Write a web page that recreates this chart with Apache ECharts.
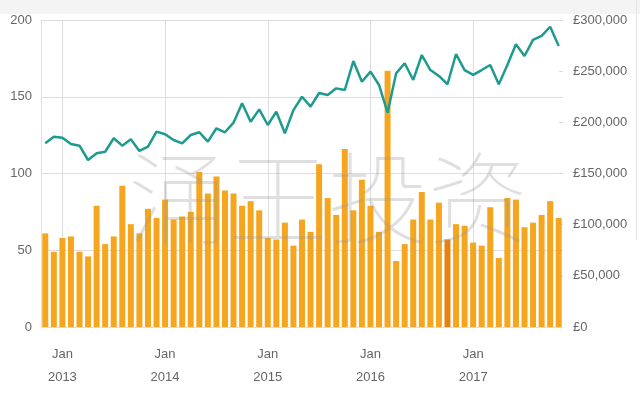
<!DOCTYPE html>
<html>
<head>
<meta charset="utf-8">
<script src="https://cdn.jsdelivr.net/npm/echarts@6/dist/echarts.min.js"></script>
<style>
  html, body { margin: 0; padding: 0; background: #fff; }
  #main { width: 640px; height: 398px; }
</style>
</head>
<body>
<div id="main"></div>
<script>
const chartDom = document.getElementById('main');
const myChart = echarts.init(chartDom);

// monthly, Nov 2012 .. Nov 2017
const monthNames = ['Jan', 'Feb', 'Mar', 'Apr', 'May', 'Jun', 'Jul', 'Aug', 'Sep', 'Oct', 'Nov', 'Dec'];
const months = [];
for (let i = 0; i < 61; i++) {
    const m = (10 + i) % 12;
    const y = 2012 + Math.floor((10 + i) / 12);
    months.push(monthNames[m] + ' ' + y);
}

// bars, left axis
const volumes = [
    61, 49, 58, 59, 49, 46, 79, 54, 59, 92,
    67, 61, 77, 71, 83, 70, 72, 75, 101, 87,
    98, 89, 87, 79, 82, 76, 58, 57, 68, 53,
    70, 62, 106, 84, 73, 116, 76, 96, 79, 62,
    167, 43, 54, 70, 88, 70, 81, 57, 67, 66,
    55, 53, 78, 45, 84, 83, 65, 68, 73, 82, 71
];

// line, right axis (£)
const prices = [
    179500, 186000, 185000, 178800, 177200, 163200, 169700, 171300, 184400, 177200,
    183400, 172000, 176200, 190900, 188300, 182700, 179500, 187600, 190300, 181100,
    194200, 190300, 199700, 218600, 200600, 212700, 197400, 210400, 189300, 212000,
    225000, 215300, 228700, 226700, 233200, 231600, 259900, 239700, 249500, 236500,
    209400, 247900, 257700, 241400, 265800, 251100, 245300, 237200, 266800, 251100,
    246300, 251100, 256000, 237200, 256000, 276300, 264800, 280500, 284400, 293400, 274600
];

const leftTicks = [0, 50, 100, 150, 200];
const rightTicks = [0, 50000, 100000, 150000, 200000, 250000, 300000];

const isJan = function (idx) { return months[idx].indexOf('Jan') === 0; };

let option = {
    animation: false,
    backgroundColor: '#fff',
    grid: { left: 41, right: 77, top: 20, bottom: 71 },
    graphic: [
        { type: 'rect', z: -10, shape: { x: 0, y: 0, width: 640, height: 14 }, style: { fill: '#f4f4f4' } },
        { type: 'line', z: -10, shape: { x1: 636.5, y1: 0, x2: 636.5, y2: 240 }, style: { stroke: '#e4e4e4', lineWidth: 1 } },
        {
            type: 'text', z: 100, silent: true,
            style: {
                text: '涌王投资', x: 328, y: 198, align: 'center', verticalAlign: 'middle',
                fontSize: 100, fontFamily: 'Noto Sans CJK SC', fontWeight: 'lighter',
                fill: 'rgba(150,150,150,0.3)'
            }
        }
    ],
    xAxis: {
        type: 'category',
        data: months,
        axisLine: { show: false },
        axisTick: { show: false },
        splitLine: {
            show: true,
            alignWithLabel: true,
            interval: isJan,
            lineStyle: { color: '#dddddd', width: 1 }
        },
        axisLabel: {
            interval: isJan,
            margin: 16,
            color: '#666',
            fontSize: 13,
            fontFamily: 'Liberation Sans',
            lineHeight: 23,
            formatter: function (v) {
                const p = v.split(' ');
                return p[0] + '\n' + p[1];
            }
        }
    },
    yAxis: [
        {
            type: 'value',
            min: leftTicks[0],
            max: leftTicks[leftTicks.length - 1],
            interval: 50,
            axisLine: { show: true, lineStyle: { color: '#e2e2e2' } },
            axisTick: { show: false },
            splitLine: { lineStyle: { color: '#dddddd' } },
            axisLabel: { color: '#666', fontSize: 13, margin: 9, fontFamily: 'Liberation Sans' }
        },
        {
            type: 'value',
            min: rightTicks[0],
            max: rightTicks[rightTicks.length - 1],
            interval: 50000,
            axisLine: { show: false },
            axisTick: { show: true, inside: true, length: 4, lineStyle: { color: '#d8d8d8' } },
            splitLine: { show: false },
            axisLabel: {
                color: '#666', fontSize: 13, margin: 10, fontFamily: 'Liberation Sans',
                formatter: function (v) { return '£' + v.toLocaleString('en-GB'); }
            }
        }
    ],
    series: [
        {
            type: 'bar',
            yAxisIndex: 0,
            barWidth: 6,
            data: volumes.map(function (v, i) {
                return i === 47 ? { value: v, itemStyle: { color: '#e6830f' } } : v;
            }),
            itemStyle: { color: '#f6a61e' }
        },
        {
            type: 'line',
            yAxisIndex: 1,
            data: prices,
            symbol: 'none',
            lineStyle: { color: '#1f9a8e', width: 2.5 },
            z: 5
        }
    ]
};

option && myChart.setOption(option);
</script>
</body>
</html>
